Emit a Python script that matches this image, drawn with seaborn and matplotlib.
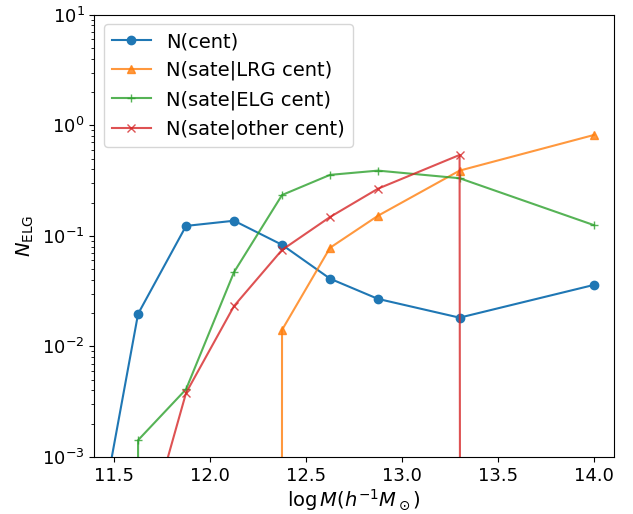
import matplotlib
matplotlib.use("Agg")
import matplotlib.pyplot as plt
import seaborn as sns

# Halo mass bin centres, log10 M [h^-1 Msun]
log_mass = [11.375, 11.625, 11.875, 12.125, 12.375, 12.625, 12.875, 13.3, 14.0]

# Mean ELG occupation per halo
n_cent = [8.5e-5, 0.0197, 0.123, 0.137, 0.083, 0.041, 0.0269, 0.0182, 0.036]
n_sat_lrg_cent = [0.0, 0.0, 0.0, 0.0, 0.0141, 0.078, 0.152, 0.389, 0.817]
n_sat_elg_cent = [0.0, 0.00142, 0.0041, 0.047, 0.234, 0.356, 0.389, 0.332, 0.125]
n_sat_other_cent = [0.0, 1.1e-4, 0.0038, 0.0232, 0.0746, 0.148, 0.267, 0.539, 0.0]

labels = ["N(cent)", "N(sate|LRG cent)", "N(sate|ELG cent)", "N(sate|other cent)"]

plt.rcParams["font.size"] = 14
plt.rcParams["xtick.labelsize"] = 13
plt.rcParams["ytick.labelsize"] = 13

fig, ax = plt.subplots(figsize=(6.33, 5.14), dpi=100)
fig.subplots_adjust(left=0.149, right=0.9695, top=0.9714, bottom=0.1109)

series = [
    (n_cent, labels[0], "#1f77b4", "o", 1.0),
    (n_sat_lrg_cent, labels[1], "#ff7f0e", "^", 0.8),
    (n_sat_elg_cent, labels[2], "#2ca02c", "+", 0.8),
    (n_sat_other_cent, labels[3], "#d62728", "x", 0.8),
]
for vals, lab, col, mk, a in series:
    sns.lineplot(x=log_mass, y=vals, ax=ax, estimator=None, sort=False,
                 color=col, marker=mk, markersize=6, markeredgecolor=col,
                 markeredgewidth=1.0, linewidth=1.5, alpha=a, label=lab)

ax.set_yscale("log")
ax.set_ylim(1e-3, 1e1)
ax.set_xlim(11.397, 14.103)
ax.set_xticks([11.5, 12.0, 12.5, 13.0, 13.5, 14.0])
ax.set_xlabel(r"$\log M (h^{-1}M_\odot)$", labelpad=1.5)
ax.set_ylabel(r"$N_{\rm ELG}$")
ax.legend(loc="upper left")

fig.savefig("out.png", dpi=100)
